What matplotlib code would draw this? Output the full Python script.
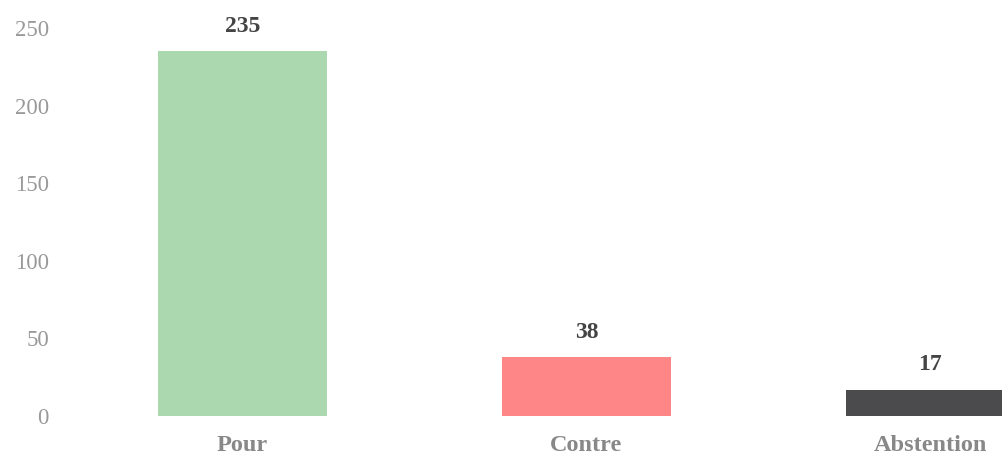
import matplotlib
matplotlib.use("Agg")
import matplotlib.pyplot as plt

# vote results
categories = ["Pour", "Contre", "Abstention"]
votes = [235, 38, 17]
colors = ["#acd8b0", "#ff8686", "#4b4b4d"]
yticks = [0, 50, 100, 150, 200, 250]

plt.rcParams["font.family"] = ["Liberation Serif", "DejaVu Serif"]

fig = plt.figure(figsize=(10.03, 4.57), dpi=100)
ax = fig.add_axes([60 / 1003, 41 / 457, 943 / 1003, 416 / 457])

x = list(range(len(categories)))
bars = ax.bar(x, votes, width=0.49, color=colors)

for xi, v in zip(x, votes):
    ax.annotate(str(v), (xi, v), xytext=(0, 14), textcoords="offset points",
                ha="center", va="baseline", fontsize=17, fontweight="bold",
                color="#444444")

ax.set_xlim(-0.5305, 2.2108)
ax.set_ylim(0, 268)
ax.set_yticks(yticks)
ax.set_xticks(x)
ax.set_xticklabels(categories, fontsize=17.5, fontweight="bold", color="#888888")
ax.tick_params(axis="y", length=0, pad=8, labelsize=16.5, labelcolor="#999999")
ax.tick_params(axis="x", length=0, pad=14)
for s in ax.spines.values():
    s.set_visible(False)

fig.savefig("out.png", dpi=100)
